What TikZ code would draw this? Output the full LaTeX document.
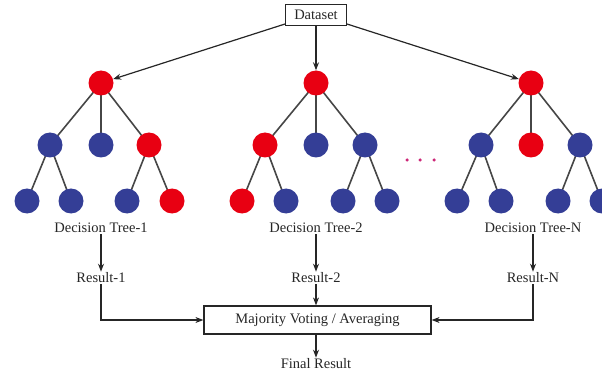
\documentclass[tikz,border=0pt]{standalone}
\usepackage{fontspec}
\setmainfont{Liberation Serif}
\usetikzlibrary{arrows.meta,backgrounds}
\definecolor{tred}{RGB}{232,0,18}
\definecolor{tblue}{RGB}{52,62,150}
\definecolor{tdot}{RGB}{205,40,120}
\definecolor{tedge}{RGB}{70,70,70}
\begin{document}
\begin{tikzpicture}[x=1pt,y=-1pt,
  R/.style={circle,fill=tred,minimum size=25pt,inner sep=0pt},
  B/.style={circle,fill=tblue,minimum size=25pt,inner sep=0pt},
  edge/.style={draw=tedge,line width=1.6pt},
  arr/.style={draw=black!85,line width=1.2pt,-{Stealth[length=8pt,width=6pt]}},
  lab/.style={font=\fontsize{14.5}{16}\selectfont,text=black!85,inner sep=1pt},
  boxn/.style={draw=black!85,line width=1.2pt,font=\fontsize{14.5}{16}\selectfont,text=black!85}
]
\useasboundingbox (0,0) rectangle (602,374);
\clip (0,0) rectangle (602,374);
% Dataset
\node[boxn,minimum width=61pt,minimum height=21pt,inner sep=2pt] (data) at (316,15) {Dataset};
% Tree 1
\node[R] (a0) at (101,83) {};
\node[B] (a1) at (50,145) {};
\node[B] (a2) at (101,145) {};
\node[R] (a3) at (149,145) {};
\node[B] (a4) at (27,201) {};
\node[B] (a5) at (71,201) {};
\node[B] (a6) at (127,201) {};
\node[R] (a7) at (172,201) {};
% Tree 2
\node[R] (b0) at (316,83) {};
\node[R] (b1) at (265,145) {};
\node[B] (b2) at (316,145) {};
\node[B] (b3) at (365,145) {};
\node[R] (b4) at (242,201) {};
\node[B] (b5) at (286,201) {};
\node[B] (b6) at (343,201) {};
\node[B] (b7) at (387,201) {};
% Tree N
\node[R] (c0) at (531,83) {};
\node[B] (c1) at (481,145) {};
\node[R] (c2) at (531,145) {};
\node[B] (c3) at (580,145) {};
\node[B] (c4) at (457,201) {};
\node[B] (c5) at (501,201) {};
\node[B] (c6) at (558,201) {};
\node[B] (c7) at (602,201) {};
% edges
\begin{pgfonlayer}{background}
\foreach \t in {a,b,c}{
  \draw[edge] (\t0.center) -- (\t1.center);
  \draw[edge] (\t0.center) -- (\t2.center);
  \draw[edge] (\t0.center) -- (\t3.center);
}
\draw[edge] (a1.center) -- (a4.center); \draw[edge] (a1.center) -- (a5.center);
\draw[edge] (a3.center) -- (a6.center); \draw[edge] (a3.center) -- (a7.center);
\draw[edge] (b1.center) -- (b4.center); \draw[edge] (b1.center) -- (b5.center);
\draw[edge] (b3.center) -- (b6.center); \draw[edge] (b3.center) -- (b7.center);
\draw[edge] (c1.center) -- (c4.center); \draw[edge] (c1.center) -- (c5.center);
\draw[edge] (c3.center) -- (c6.center); \draw[edge] (c3.center) -- (c7.center);
\end{pgfonlayer}
% dots
\node[circle,fill=tdot,minimum size=3.5pt,inner sep=0pt] (d1) at (407,160) {};
\node[circle,fill=tdot,minimum size=3.5pt,inner sep=0pt] (d2) at (420,160) {};
\node[circle,fill=tdot,minimum size=3.5pt,inner sep=0pt] (d3) at (434,160) {};
% dataset arrows
\coordinate (dl) at (285,24);
\coordinate (dr) at (347,24);
\draw[arr] (dl) -- (a0);
\draw[arr] (data) -- (b0);
\draw[arr] (dr) -- (c0);
% labels
\node[lab] (t1) at (101,228) {Decision Tree-1};
\node[lab] (t2) at (316,228) {Decision Tree-2};
\node[lab] (t3) at (533,228) {Decision Tree-N};
\node[lab] (r1) at (101,278) {Result-1};
\node[lab] (r2) at (316,278) {Result-2};
\node[lab] (r3) at (533,278) {Result-N};
\node[boxn,minimum width=227pt,minimum height=28pt,inner sep=2pt] (mv) at (317.5,320) {Majority Voting / Averaging};
\node[lab] (fr) at (316,364) {Final Result};
\draw[arr] (t1) -- (r1);
\draw[arr] (t2) -- (r2);
\draw[arr] (t3) -- (r3);
\draw[arr] (r2) -- (r2 |- mv.north);
\draw[arr] (r1.south) |- (mv.west);
\draw[arr] (r3.south) |- (mv.east);
\draw[arr] (fr.north |- mv.south) -- (fr);
\end{tikzpicture}
\end{document}
